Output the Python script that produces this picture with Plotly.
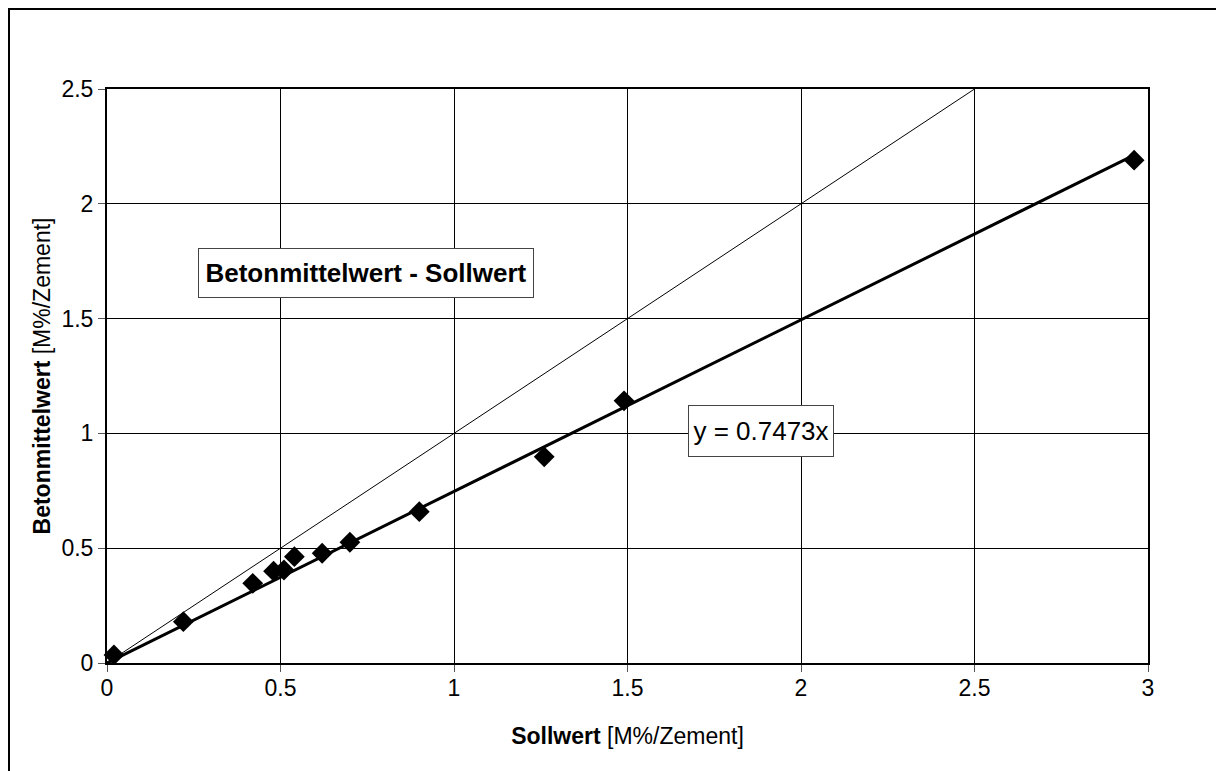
import plotly.graph_objects as go

# Data
soll = [0.02, 0.22, 0.42, 0.48, 0.51, 0.54, 0.62, 0.70, 0.90, 1.26, 1.49, 2.96]
beton = [0.035, 0.18, 0.347, 0.40, 0.405, 0.463, 0.478, 0.526, 0.659, 0.898, 1.142, 2.19]
slope = 0.7473
trend_x = [0.0, 2.96]
ideal_x = [0.0, 2.5]

x_ticks = [0, 0.5, 1, 1.5, 2, 2.5, 3]
y_ticks = [0, 0.5, 1, 1.5, 2, 2.5]

FONT = "Liberation Sans, Arial, sans-serif"

fig = go.Figure()

fig.add_trace(go.Scatter(x=ideal_x, y=ideal_x, mode="lines",
                         line=dict(color="black", width=1), showlegend=False,
                         hoverinfo="skip"))
fig.add_trace(go.Scatter(x=trend_x, y=[slope * v for v in trend_x], mode="lines",
                         line=dict(color="black", width=3), showlegend=False,
                         hoverinfo="skip"))
fig.add_trace(go.Scatter(x=soll, y=beton, mode="markers",
                         marker=dict(symbol="diamond", size=16, color="black"),
                         showlegend=False, cliponaxis=False))

fig.update_layout(
    width=1216, height=771,
    margin=dict(l=107, r=68, t=89, b=108),
    paper_bgcolor="white", plot_bgcolor="white",
    font=dict(family=FONT, size=23, color="black"),
    xaxis=dict(range=[0, 3], tickvals=x_ticks, ticktext=[str(v) for v in x_ticks],
               tickfont=dict(size=23), ticklabelstandoff=-4,
               showgrid=True, gridcolor="black", gridwidth=1,
               showline=True, linecolor="black", linewidth=2, mirror=True,
               ticks="outside", ticklen=7, tickcolor="#555", zeroline=False,
               automargin=False,
               title=dict(text="<b>Sollwert</b> [M%/Zement]", font=dict(size=23),
                          standoff=28)),
    yaxis=dict(range=[0, 2.5], tickvals=y_ticks, ticktext=[str(v) for v in y_ticks],
               tickfont=dict(size=23),
               showgrid=True, gridcolor="black", gridwidth=1,
               showline=True, linecolor="black", linewidth=2, mirror=True,
               ticks="outside", ticklen=7, tickcolor="#555", zeroline=False,
               automargin=False,
               title=dict(text="<b>Betonmittelwert</b> [M%/Zement]", font=dict(size=23),
                          standoff=4)),
    shapes=[dict(type="rect", xref="paper", yref="paper",
                 x0=(9 - 107) / 1041, x1=1.2, y0=-0.4, y1=(663 - 9) / 574,
                 line=dict(color="black", width=2), layer="below")],
    annotations=[
        dict(x=(366 - 107) / 1041, y=(663 - 273) / 574, xref="paper", yref="paper",
             xanchor="center", yanchor="middle",
             text="<b>Betonmittelwert - Sollwert</b>", showarrow=False,
             font=dict(size=26), bgcolor="white", bordercolor="#444", borderwidth=1,
             borderpad=3, width=328, height=42),
        dict(x=(761 - 107) / 1041, y=(663 - 431) / 574, xref="paper", yref="paper",
             xanchor="center", yanchor="middle",
             text="y = 0.7473x", showarrow=False,
             font=dict(size=26), bgcolor="white", bordercolor="#444", borderwidth=1,
             borderpad=3, width=138, height=44),
    ],
)

fig.write_html("out.html")
